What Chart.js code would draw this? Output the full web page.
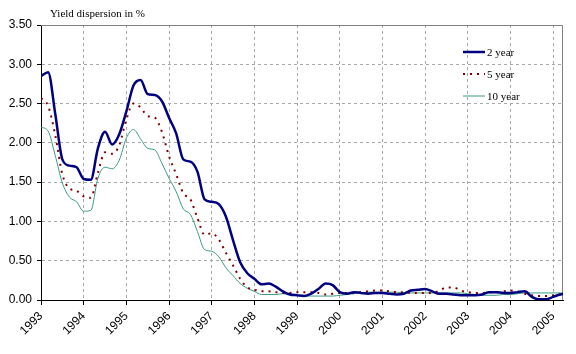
<!DOCTYPE html>
<html>
<head>
<meta charset="utf-8">
<script src="https://cdn.jsdelivr.net/npm/chart.js@4.4.1/dist/chart.umd.min.js"></script>
<style>
  body { margin: 0; background: #fff; }
</style>
</head>
<body>
<canvas id="myChart" width="576" height="354"></canvas>
<script>
// one point every two months, starting January 1993
const startYear = 1993;
const stepYears = 1 / 6;

const yearTicks = [1993, 1994, 1995, 1996, 1997, 1998, 1999, 2000, 2001, 2002, 2003, 2004, 2005];
const yearLabels = ['1993', '1994', '1995', '1996', '1997', '1998', '1999', '2000', '2001', '2002', '2003', '2004', '2005'];
const valueTicks = [0, 0.5, 1, 1.5, 2, 2.5, 3, 3.5];

const seriesNames = ['2 year', '5 year', '10 year'];

const twoYear = [
  2.85, 2.90, 2.37, 1.79, 1.71, 1.69, 1.54, 1.53, 1.93, 2.14, 1.98, 2.11,
  2.40, 2.73, 2.80, 2.62, 2.61, 2.53, 2.32, 2.12, 1.79, 1.76, 1.63, 1.28,
  1.25, 1.22, 1.06, 0.76, 0.48, 0.34, 0.27, 0.20, 0.21, 0.17, 0.11, 0.07,
  0.06, 0.05, 0.08, 0.14, 0.21, 0.19, 0.10, 0.08, 0.10, 0.09, 0.08, 0.09,
  0.09, 0.08, 0.07, 0.08, 0.12, 0.13, 0.14, 0.11, 0.08, 0.08, 0.07, 0.06,
  0.06, 0.06, 0.07, 0.10, 0.10, 0.09, 0.09, 0.10, 0.11, 0.04, 0.01, 0.01,
  0.04, 0.07, 0.08
];
const fiveYear = [
  2.57, 2.47, 2.10, 1.60, 1.42, 1.39, 1.32, 1.30, 1.62, 1.88, 1.86, 1.97,
  2.30, 2.50, 2.45, 2.34, 2.32, 2.14, 1.83, 1.60, 1.36, 1.28, 1.04, 0.83,
  0.85, 0.77, 0.60, 0.44, 0.27, 0.16, 0.13, 0.11, 0.11, 0.10, 0.09, 0.09,
  0.10, 0.10, 0.10, 0.09, 0.07, 0.08, 0.09, 0.09, 0.09, 0.10, 0.11, 0.12,
  0.12, 0.11, 0.10, 0.10, 0.09, 0.09, 0.09, 0.09, 0.12, 0.16, 0.16, 0.12,
  0.10, 0.09, 0.09, 0.10, 0.10, 0.11, 0.12, 0.11, 0.08, 0.06, 0.05, 0.05,
  0.06, 0.07, 0.07
];
const tenYear = [
  2.20, 2.15, 1.84, 1.49, 1.31, 1.25, 1.13, 1.14, 1.55, 1.69, 1.67, 1.78,
  2.06, 2.17, 2.05, 1.93, 1.91, 1.74, 1.55, 1.38, 1.16, 1.09, 0.87, 0.64,
  0.62, 0.55, 0.41, 0.31, 0.21, 0.15, 0.11, 0.07, 0.07, 0.07, 0.08, 0.07,
  0.06, 0.05, 0.05, 0.05, 0.05, 0.05, 0.06, 0.07, 0.08, 0.09, 0.10, 0.10,
  0.10, 0.10, 0.10, 0.09, 0.09, 0.09, 0.09, 0.09, 0.09, 0.09, 0.09, 0.09,
  0.08, 0.07, 0.06, 0.06, 0.06, 0.07, 0.07, 0.08, 0.09, 0.09, 0.09, 0.09,
  0.09, 0.09, 0.09
];

const toPoints = arr => arr.map((v, i) => ({ x: startYear + i * stepYears, y: v }));

const styles = [
  { color: '#000080', width: 2.5, dash: [] },
  { color: '#800000', width: 2, dash: [2, 5] },
  { color: '#3a9a82', width: 1, dash: [] }
];

const data = {
  datasets: [twoYear, fiveYear, tenYear].map((arr, i) => ({
    label: seriesNames[i],
    data: toPoints(arr),
    borderColor: styles[i].color,
    borderWidth: styles[i].width,
    borderDash: styles[i].dash,
    pointRadius: 0,
    fill: false,
    cubicInterpolationMode: 'monotone'
  }))
};

const extras = {
  id: 'extras',
  beforeDatasetsDraw(chart) {
    const { ctx, chartArea: a } = chart;
    ctx.save();
    ctx.strokeStyle = '#808080';
    ctx.lineWidth = 1;
    ctx.setLineDash([]);
    ctx.beginPath();
    ctx.moveTo(a.left, a.top + 0.5);
    ctx.lineTo(a.right - 0.5, a.top + 0.5);
    ctx.lineTo(a.right - 0.5, a.bottom);
    ctx.stroke();
    ctx.restore();
  },
  afterDraw(chart) {
    const { ctx } = chart;
    ctx.save();
    ctx.fillStyle = '#000';
    ctx.font = '11px "Liberation Serif"';
    ctx.textBaseline = 'alphabetic';
    ctx.fillText('Yield dispersion in %', 50, 17);

    const ys = [52, 74, 96];
    seriesNames.forEach((name, i) => {
      ctx.strokeStyle = styles[i].color;
      ctx.lineWidth = styles[i].width;
      ctx.setLineDash(styles[i].dash);
      ctx.beginPath();
      ctx.moveTo(463, ys[i]);
      ctx.lineTo(485, ys[i]);
      ctx.stroke();
      ctx.fillText(name, 487, ys[i] + 4);
    });
    ctx.restore();
  }
};

const config = {
  type: 'line',
  data: data,
  options: {
    responsive: false,
    animation: false,
    layout: { padding: { top: 25, right: 13, left: 0, bottom: 0 } },
    plugins: { legend: { display: false }, tooltip: { enabled: false } },
    scales: {
      x: {
        type: 'linear',
        min: 1993,
        max: 2005.23,
        afterFit: s => { s.height = 54; },
        afterBuildTicks: s => { s.ticks = yearTicks.map(v => ({ value: v })); },
        grid: { color: '#a8a8a8', tickColor: '#000', tickLength: 5 },
        border: { color: '#000', width: 1, dash: [3, 3] },
        ticks: {
          maxRotation: 45,
          minRotation: 45,
          padding: 4,
          color: '#000',
          font: { family: '"Liberation Sans"', size: 12 },
          callback: (v, i) => yearLabels[i]
        }
      },
      y: {
        min: 0,
        max: 3.5,
        afterFit: s => { s.width = 41; },
        afterBuildTicks: s => { s.ticks = valueTicks.map(v => ({ value: v })); },
        grid: { color: '#a8a8a8', tickColor: '#000', tickLength: 4 },
        border: { color: '#000', width: 1, dash: [3, 3] },
        ticks: {
          padding: 5,
          color: '#000',
          font: { family: '"Liberation Sans"', size: 12 },
          callback: v => v.toFixed(2)
        }
      }
    }
  },
  plugins: [extras]
};

const myChart = new Chart(document.getElementById('myChart'), config);
</script>
</body>
</html>
